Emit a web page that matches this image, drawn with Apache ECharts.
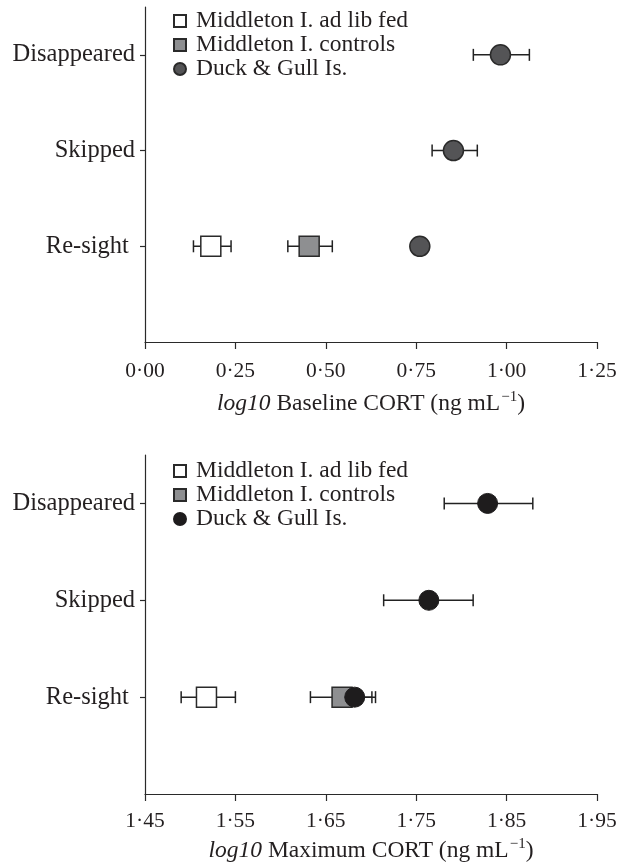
<!DOCTYPE html>
<html>
<head>
<meta charset="utf-8">
<script src="https://cdn.jsdelivr.net/npm/echarts@6/dist/echarts.min.js"></script>
<style>
html,body{margin:0;padding:0;background:#fff;}
#main{width:625px;height:863px;}
</style>
</head>
<body>
<div id="main"></div>
<script>
// ---- data ----
const categories = ['Re-sight ', 'Skipped', 'Disappeared'];
const groupNames = ['Middleton I. ad lib fed', 'Middleton I. controls', 'Duck & Gull Is.'];

// Baseline CORT (log10)
const baseAdLibMean = [0.182, null, null];
const baseAdLibLow = [0.134, null, null];
const baseAdLibHigh = [0.238, null, null];
const baseControlMean = [0.454, null, null];
const baseControlLow = [0.395, null, null];
const baseControlHigh = [0.518, null, null];
const baseDuckMean = [0.760, 0.853, 0.983];
const baseDuckLow = [null, 0.794, 0.908];
const baseDuckHigh = [null, 0.919, 1.063];

// Maximum CORT (log10)
const maxAdLibMean = [1.518, null, null];
const maxAdLibLow = [1.490, null, null];
const maxAdLibHigh = [1.550, null, null];
const maxControlMean = [1.668, null, null];
const maxControlLow = [1.633, null, null];
const maxControlHigh = [1.701, null, null];
const maxDuckMean = [1.682, 1.764, 1.829];
const maxDuckLow = [1.659, 1.714, 1.781];
const maxDuckHigh = [1.705, 1.813, 1.879];

const baseTickValues = [0, 0.25, 0.5, 0.75, 1.0, 1.25];
const baseTickLabels = ['0·00', '0·25', '0·50', '0·75', '1·00', '1·25'];
const maxTickValues = [1.45, 1.55, 1.65, 1.75, 1.85, 1.95];
const maxTickLabels = ['1·45', '1·55', '1·65', '1·75', '1·85', '1·95'];

// ---- helpers ----
const FONT = 'Liberation Serif';
const TXT = '#231f20';
const AX = '#2a2a2a';

function pts(means) {
  const out = [];
  means.forEach((m, i) => { if (m != null) out.push([m, i + 1]); });
  return out;
}
function bars(lows, highs) {
  const out = [];
  lows.forEach((lo, i) => { if (lo != null && highs[i] != null) out.push([lo, highs[i], i + 1]); });
  return out;
}
function renderErr(params, api) {
  const lo = api.value(0), hi = api.value(1), y = api.value(2);
  const p1 = api.coord([lo, y]), p2 = api.coord([hi, y]);
  const c = 6;
  const st = { stroke: '#222', lineWidth: 1.5 };
  return {
    type: 'group',
    children: [
      { type: 'line', shape: { x1: p1[0], y1: p1[1], x2: p2[0], y2: p2[1] }, style: st },
      { type: 'line', shape: { x1: p1[0], y1: p1[1] - c, x2: p1[0], y2: p1[1] + c }, style: st },
      { type: 'line', shape: { x1: p2[0], y1: p2[1] - c, x2: p2[0], y2: p2[1] + c }, style: st }
    ]
  };
}
function errSeries(idx, lows, highs) {
  return {
    type: 'custom', xAxisIndex: idx, yAxisIndex: idx, z: 1,
    renderItem: renderErr, encode: { x: [0, 1], y: 2 },
    data: bars(lows, highs), silent: true
  };
}
const styles = [
  { symbol: 'rect', itemStyle: { color: '#ffffff', borderColor: '#2a2a2a', borderWidth: 1.5, opacity: 1 } },
  { symbol: 'rect', itemStyle: { color: '#8e8f91', borderColor: '#2a2a2a', borderWidth: 1.5, opacity: 1 } },
  { symbol: 'circle', itemStyle: { color: '#545456', borderColor: '#2a2a2a', borderWidth: 1.5, opacity: 1 } },
  { symbol: 'circle', itemStyle: { color: '#1e1c1d', borderColor: '#1e1c1d', borderWidth: 1, opacity: 1 } }
];
function scat(idx, name, means, st) {
  return {
    type: 'scatter', name: name, xAxisIndex: idx, yAxisIndex: idx, z: 3,
    symbol: st.symbol, symbolSize: 20, itemStyle: st.itemStyle,
    data: pts(means), silent: true
  };
}
const SUFFIX = ' [max]';
function xAxis(idx, min, max, vals, labels, title, margin, gap) {
  return {
    type: 'value', gridIndex: idx, min: min, max: max,
    axisLine: { show: true, lineStyle: { color: AX, width: 1.2 } },
    axisTick: { show: true, inside: false, length: 7, lineStyle: { color: AX, width: 1.2 }, customValues: vals },
    axisLabel: {
      customValues: vals, margin: margin,
      formatter: v => { const k = vals.findIndex(t => Math.abs(t - v) < 1e-6); return k >= 0 ? labels[k] : ''; },
      fontFamily: FONT, fontSize: 21.5, color: TXT
    },
    splitLine: { show: false },
    name: title, nameLocation: 'middle', nameGap: gap,
    nameTextStyle: {
      fontFamily: FONT, fontSize: 23.5, color: TXT,
      rich: {
        i: { fontFamily: FONT, fontSize: 23.5, fontStyle: 'italic', color: TXT },
        s: { fontFamily: FONT, fontSize: 15, color: TXT, padding: [0, 0, 12, 1] }
      }
    }
  };
}
function yAxis(idx) {
  return {
    type: 'value', gridIndex: idx, min: 0, max: 3.5,
    axisLine: { show: true, lineStyle: { color: AX, width: 1.2 } },
    axisTick: { show: true, length: 5, lineStyle: { color: AX, width: 1.2 }, customValues: [1, 2, 3] },
    axisLabel: {
      customValues: [1, 2, 3], margin: 10,
      formatter: v => categories[Math.round(v) - 1] || '',
      fontFamily: FONT, fontSize: 24.5, color: TXT
    },
    splitLine: { show: false }
  };
}
function legend(top, suffix) {
  return {
    left: 173, top: top, orient: 'vertical', itemGap: 0, padding: 0,
    itemWidth: 12, itemHeight: 12, selectedMode: false,
    data: groupNames.map(n => n + suffix),
    formatter: n => n.replace(SUFFIX, ''),
    textStyle: { fontFamily: FONT, fontSize: 23.5, color: TXT, lineHeight: 23.5, padding: [0, 0, 0, 5] }
  };
}

const option = {
  animation: false,
  backgroundColor: '#ffffff',
  grid: [
    { left: 145, right: 28, top: 7, height: 335, containLabel: false, outerBoundsMode: 'none' },
    { left: 145, right: 28, top: 455, height: 339, containLabel: false, outerBoundsMode: 'none' }
  ],
  xAxis: [
    xAxis(0, 0, 1.25, baseTickValues, baseTickLabels, '{i|log10} Baseline CORT (ng mL{s|−1})', 18, 48),
    xAxis(1, 1.45, 1.95, maxTickValues, maxTickLabels, '{i|log10} Maximum CORT (ng mL{s|−1})', 16, 43)
  ],
  yAxis: [yAxis(0), yAxis(1)],
  legend: [legend(9, ''), legend(459, SUFFIX)],
  series: [
    errSeries(0, baseAdLibLow, baseAdLibHigh),
    errSeries(0, baseControlLow, baseControlHigh),
    errSeries(0, baseDuckLow, baseDuckHigh),
    scat(0, groupNames[0], baseAdLibMean, styles[0]),
    scat(0, groupNames[1], baseControlMean, styles[1]),
    scat(0, groupNames[2], baseDuckMean, styles[2]),
    errSeries(1, maxAdLibLow, maxAdLibHigh),
    errSeries(1, maxControlLow, maxControlHigh),
    errSeries(1, maxDuckLow, maxDuckHigh),
    scat(1, groupNames[0] + SUFFIX, maxAdLibMean, styles[0]),
    scat(1, groupNames[1] + SUFFIX, maxControlMean, styles[1]),
    scat(1, groupNames[2] + SUFFIX, maxDuckMean, styles[3])
  ]
};
const chart = echarts.init(document.getElementById('main'), null, { renderer: 'canvas' });
chart.setOption(option);
</script>
</body>
</html>
